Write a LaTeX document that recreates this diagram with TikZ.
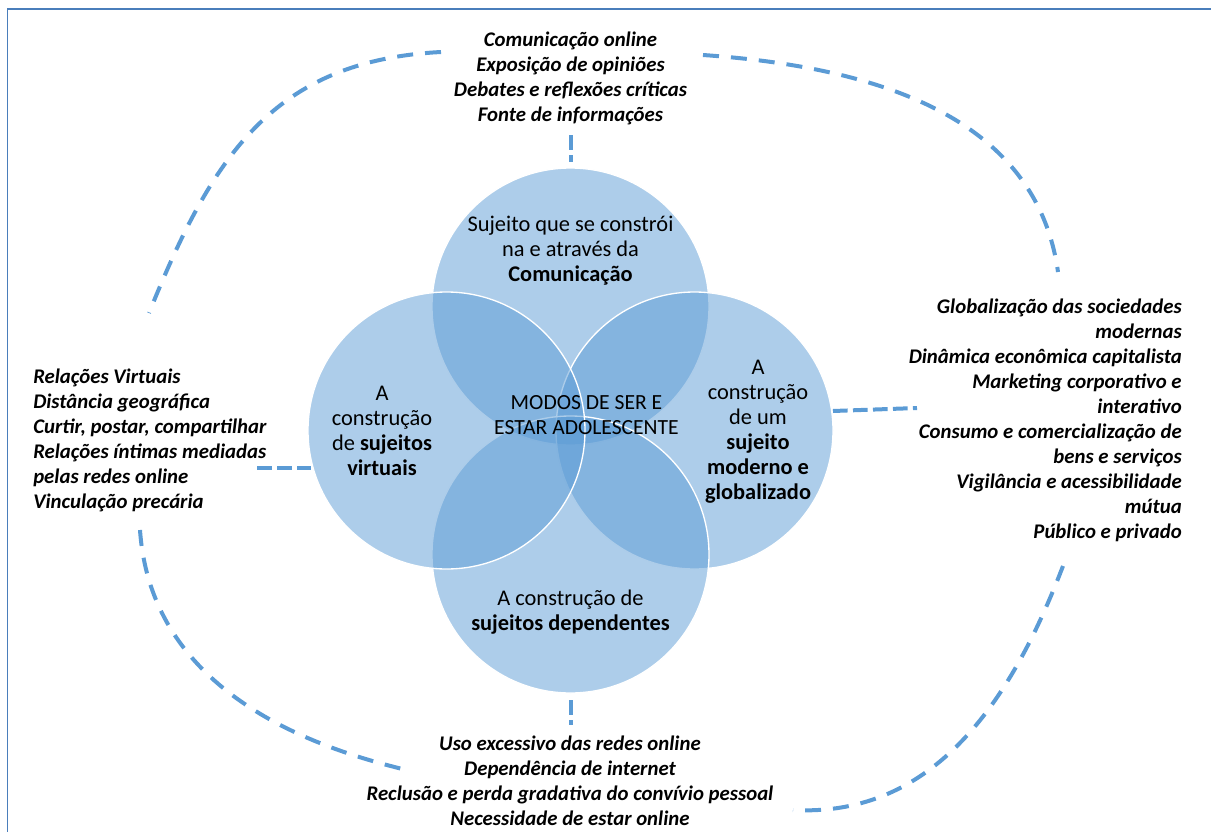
\documentclass[tikz,border=0pt]{standalone}
\usepackage{fontspec}
\setmainfont{Carlito}
\usetikzlibrary{positioning}
\definecolor{vennblue}{RGB}{91,155,213}
\definecolor{frameblue}{RGB}{74,126,187}

\begin{document}
\begin{tikzpicture}[x=0.75pt,y=0.75pt,
  venn/.style={circle,fill=vennblue,fill opacity=0.5,draw=white,line width=1pt,
    minimum size=207.75pt,inner sep=0pt},
  ring/.style={draw=vennblue,line width=3pt,dash pattern=on 12pt off 9pt},
  link/.style={draw=vennblue,line width=3pt,dash pattern=on 11pt off 4pt},
  lst/.style={font=\fontsize{15.6}{18.75}\selectfont\bfseries\itshape,inner sep=0pt},
  lbl/.style={font=\fontsize{16.8}{18.75}\selectfont,align=center,inner sep=0pt}]

  \useasboundingbox (0,0) rectangle (1211,-832);
  \draw[frameblue,line width=1pt] (7.5,-9) rectangle (1240,-860);

  % the four circles
  \node[venn] (comm) at (570.5,-306.5) {};
  \node[venn] (glob) at (694.5,-430.5) {};
  \node[venn] (depd) at (570.5,-554.5) {};
  \node[venn] (virt) at (446.5,-430.5) {};

  % texts inside (base = last line)
  \node[lbl,anchor=base] (commtxt) at (570.5,-281) {Sujeito que se constrói\\na e através da\\\textbf{Comunicação}};
  \node[lbl,anchor=base] (virttxt) at (382,-475) {A\\construção\\de \textbf{sujeitos}\\\textbf{virtuais}};
  \node[lbl,anchor=base] (globtxt) at (758,-499) {A\\construção\\de um\\\textbf{sujeito}\\\textbf{moderno e}\\\textbf{globalizado}};
  \node[lbl,anchor=base,font=\fontsize{16.2}{18.75}\selectfont] (modos) at (586.5,-434) {MODOS DE SER E\\ESTAR ADOLESCENTE};
  \node[lbl,anchor=base] (depdtxt) at (570.5,-630) {A construção de\\\textbf{sujeitos dependentes}};

  % lists outside
  \node[lst,align=center,anchor=base] (commlist) at (570.5,-121)
    {Comunicação online\\Exposição de opiniões\\Debates e reflexões críticas\\Fonte de informações};
  \node[lst,align=left,anchor=base west] (virtlist) at (33,-508)
    {Relações Virtuais\\Distância geográfica\\Curtir, postar, compartilhar\\Relações íntimas mediadas\\pelas redes online\\Vinculação precária};
  \node[lst,align=right,anchor=base east] (globlist) at (1182,-538)
    {Globalização das sociedades\\modernas\\Dinâmica econômica capitalista\\Marketing corporativo e\\interativo\\Consumo e comercialização de\\bens e serviços\\Vigilância e acessibilidade\\mútua\\Público e privado};
  \node[lst,align=center,anchor=base] (depdlist) at (570,-825)
    {Uso excessivo das redes online\\Dependência de internet\\Reclusão e perda gradativa do convívio pessoal\\Necessidade de estar online};

  % connector ends
  \coordinate (t1) at (570.5,-135);  \coordinate (t2) at (570.5,-162);
  \coordinate (b1) at (570.5,-700);  \coordinate (b2) at (570.5,-725);
  \coordinate (l1) at (257,-468);    \coordinate (l2) at (311,-468);
  \coordinate (r1) at (833,-411);    \coordinate (r2) at (917,-408);
  \coordinate (a1) at (441,-52);     \coordinate (a2) at (149,-313);
  \coordinate (a3) at (703,-55);     \coordinate (a4) at (1058,-272);
  \coordinate (a5) at (1063,-566);   \coordinate (a6) at (793,-810);
  \coordinate (a7) at (140,-530);    \coordinate (a8) at (411,-771);

  \path[link] (t1) edge (t2) (b1) edge (b2) (l1) edge (l2) (r1) edge (r2);

  \draw[ring] (a1) to[out=183,in=68,looseness=1.1] (a2);
  \draw[ring] (a3) to[out=-4,in=98] (a4);
  \draw[ring] (a5) to[out=249,in=-3] (a6);
  \draw[ring] (a7) to[out=274,in=167] (a8);
\end{tikzpicture}
\end{document}
